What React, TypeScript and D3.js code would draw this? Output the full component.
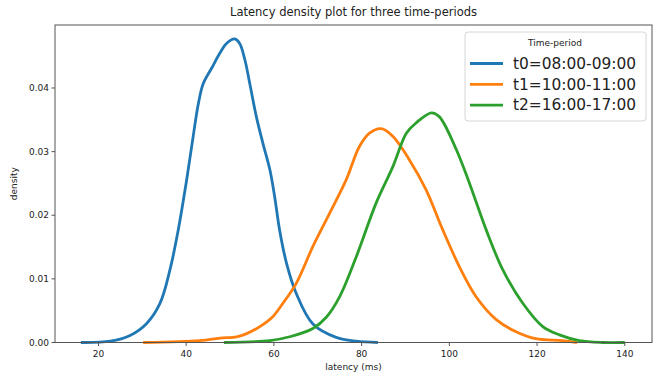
import React from 'react';
import * as d3 from 'd3';

document.body.style.margin = '0';

const title = 'Latency density plot for three time-periods';
const legendTitle = 'Time-period';
const seriesNames = ['t0=08:00-09:00', 't1=10:00-11:00', 't2=16:00-17:00'];
const seriesColors = ['#1f77b4', '#ff7f0e', '#2ca02c'];

const t0Latency = [16.0, 22.7, 27.2, 31.0, 34.0, 36.3, 38.2, 40.1, 41.6, 42.8, 43.9, 45.8, 47.7, 49.2, 51.1, 52.2, 53.4, 54.5, 56.0, 57.5, 59.1, 60.2, 61.3, 62.9, 65.1, 68.9, 74.2, 78.8, 83.7];
const t0Density = [0.0, 0.0002, 0.0011, 0.003, 0.0061, 0.0114, 0.0177, 0.0255, 0.0324, 0.0376, 0.0407, 0.0431, 0.0455, 0.047, 0.0477, 0.047, 0.0444, 0.0407, 0.0355, 0.0313, 0.0271, 0.0228, 0.0177, 0.0124, 0.0077, 0.0029, 0.0008, 0.0002, 0.0];

const t1Latency = [30.2, 43.1, 47.7, 51.5, 53.8, 56.8, 59.8, 62.1, 65.1, 68.9, 72.7, 76.5, 79.5, 81.8, 84.5, 87.1, 90.9, 94.7, 98.5, 102.3, 106.1, 110.7, 115.2, 119.7, 125.8, 129.1];
const t1Density = [0.0, 0.0003, 0.0007, 0.0009, 0.0014, 0.0025, 0.0041, 0.0062, 0.0093, 0.0151, 0.0203, 0.0256, 0.0308, 0.0329, 0.0336, 0.0324, 0.0287, 0.024, 0.0177, 0.0119, 0.0072, 0.0036, 0.0017, 0.0006, 0.0003, 0.0];

const t2Latency = [48.6, 59.1, 63.6, 68.9, 72.0, 75.0, 78.8, 83.3, 87.1, 90.2, 92.4, 95.9, 97.7, 101.6, 104.6, 108.4, 112.2, 116.7, 121.3, 125.1, 129.6, 134.9, 140.0];
const t2Density = [0.0, 0.0003, 0.0009, 0.0022, 0.004, 0.0072, 0.0135, 0.0219, 0.0276, 0.0329, 0.0345, 0.0361, 0.0355, 0.0303, 0.025, 0.0177, 0.0114, 0.0062, 0.0025, 0.0012, 0.0003, 0.0, 0.0];

const xTicks = [20, 40, 60, 80, 100, 120, 140];
const yTicks = [0, 0.01, 0.02, 0.03, 0.04];

const font = 'DejaVu Sans, sans-serif';

const App: React.FC = () => {
  const width = 662;
  const height = 373;
  const margin = { top: 25, right: 10, bottom: 30.5, left: 55 };
  const innerWidth = width - margin.left - margin.right;
  const innerHeight = height - margin.top - margin.bottom;

  const x = d3.scaleLinear().domain([10.1, 146.2]).range([0, innerWidth]);
  const y = d3.scaleLinear().domain([0, 0.0499]).range([innerHeight, 0]);

  const series = [
    { xs: t0Latency, ys: t0Density },
    { xs: t1Latency, ys: t1Density },
    { xs: t2Latency, ys: t2Density },
  ];

  const line = d3.line<[number, number]>()
    .x(d => x(d[0]))
    .y(d => Math.min(y(d[1]), innerHeight))
    .curve(d3.curveCatmullRom.alpha(0.5));

  const spine = '#555';
  const legendX = 465 - margin.left;
  const legendY = 32 - margin.top;

  return (
    <svg width={width} height={height} style={{ display: 'block', background: '#fff' }}>
      <text x={margin.left + innerWidth / 2} y={16} textAnchor="middle" fontFamily={font} fontSize={11.5} fill="#222">
        {title}
      </text>
      <g transform={`translate(${margin.left}, ${margin.top})`}>
        {/* curves */}
        {series.map((s, i) => (
          <path
            key={i}
            d={line(s.xs.map((v, j) => [v, s.ys[j]] as [number, number])) || ''}
            fill="none"
            stroke={seriesColors[i]}
            strokeWidth={2.8}
            strokeLinejoin="round"
            strokeLinecap="butt"
          />
        ))}

        {/* frame */}
        <rect x={0} y={0} width={innerWidth} height={innerHeight} fill="none" stroke={spine} strokeWidth={1} />

        {/* x axis */}
        {xTicks.map(t => (
          <g key={t} transform={`translate(${x(t)}, ${innerHeight})`}>
            <line y2={3.5} stroke={spine} />
            <text y={14} textAnchor="middle" fontFamily={font} fontSize={9} fill="#222">{t}</text>
          </g>
        ))}
        <text x={innerWidth / 2} y={innerHeight + 27} textAnchor="middle" fontFamily={font} fontSize={9} fill="#222">
          latency (ms)
        </text>

        {/* y axis */}
        {yTicks.map(t => (
          <g key={t} transform={`translate(0, ${y(t)})`}>
            <line x2={-3.5} stroke={spine} />
            <text x={-6} dy="0.35em" textAnchor="end" fontFamily={font} fontSize={9} fill="#222">{d3.format('.2f')(t)}</text>
          </g>
        ))}
        <text transform={`translate(${17 - margin.left}, ${innerHeight / 2}) rotate(-90)`} textAnchor="middle" fontFamily={font} fontSize={9} fill="#222">
          density
        </text>

        {/* legend */}
        <g transform={`translate(${legendX}, ${legendY})`}>
          <rect width={181} height={89} rx={3} fill="#fff" fillOpacity={0.8} stroke="#d6d6d6" />
          <text x={90} y={14} textAnchor="middle" fontFamily={font} fontSize={9} fill="#222">{legendTitle}</text>
          {seriesNames.map((name, i) => (
            <g key={name} transform={`translate(0, ${31.5 + i * 20.8})`}>
              <line x1={5} x2={38} stroke={seriesColors[i]} strokeWidth={2.8} />
              <text x={48} dy="0.35em" fontFamily={font} fontSize={15.4} fill="#222">{name}</text>
            </g>
          ))}
        </g>
      </g>
    </svg>
  );
};

export default App;
